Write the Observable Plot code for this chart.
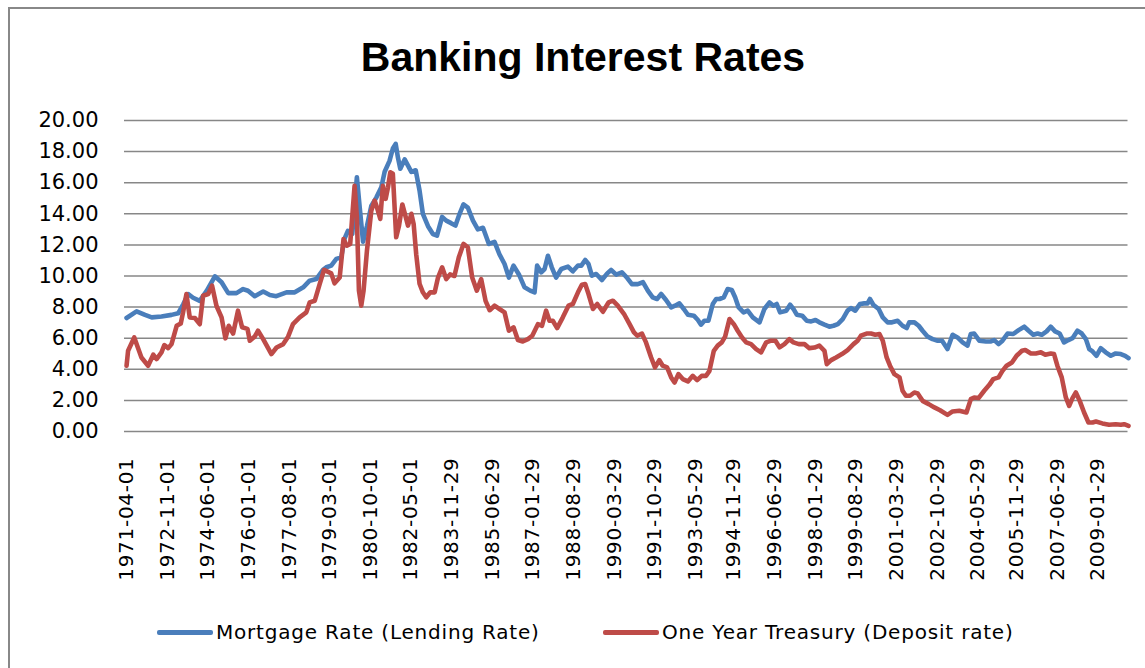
<!DOCTYPE html>
<html>
<head>
<meta charset="utf-8">
<script src="https://cdn.jsdelivr.net/npm/d3@7"></script>
<script src="https://cdn.jsdelivr.net/npm/@observablehq/plot@0.6"></script>
<style>
  html, body { margin: 0; padding: 0; background: #fff; overflow: hidden; }
  #wrap { position: relative; width: 1145px; height: 668px; overflow: hidden; background: #fff; }
  #frame { position: absolute; left: 8px; top: 7px; width: 1200px; height: 720px; border: 2px solid #888; box-sizing: border-box; }
  #title { position: absolute; left: 0; width: 1166px; top: 33px; text-align: center; font-family: "Liberation Sans", Arial, sans-serif; font-weight: bold; font-size: 41px; line-height: 48px; color: #000; }
  #chart { position: absolute; left: 0; top: 100px; }
  #chart svg { overflow: visible; }
  #chart g[aria-label="y-axis tick label"] text { font-size: 21px; }
  #chart g[aria-label="x-axis tick label"] text { font-size: 20px; letter-spacing: 0.7px; }
  .leg { position: absolute; top: 619px; height: 26px; font-family: "DejaVu Sans", sans-serif; font-size: 20px; letter-spacing: 0.8px; line-height: 26px; color: #000; white-space: nowrap; display: flex; align-items: center; }
  .leg span.sw { display: inline-block; width: 56px; height: 5px; border-radius: 2px; margin-right: 3px; }
</style>
</head>
<body>
<div id="wrap">
  <div id="frame"></div>
  <div id="title"></div>
  <div id="chart"></div>
  <div id="leg1" class="leg"></div>
  <div id="leg2" class="leg"></div>
</div>
<script>
const titleText = "Banking Interest Rates";
const seriesNames = ["Mortgage Rate (Lending Rate)", "One Year Treasury (Deposit rate)"];
const seriesColors = ["#4A7EBB", "#BE4B48"];

const tickLabels = ["1971-04-01","1972-11-01","1974-06-01","1976-01-01","1977-08-01","1979-03-01","1980-10-01","1982-05-01","1983-11-29","1985-06-29","1987-01-29","1988-08-29","1990-03-29","1991-10-29","1993-05-29","1994-11-29","1996-06-29","1998-01-29","1999-08-29","2001-03-29","2002-10-29","2004-05-29","2005-11-29","2007-06-29","2009-01-29"];
const yTicks = [0, 2, 4, 6, 8, 10, 12, 14, 16, 18, 20];

// decimal years
const mortgageYears = [1971.25,1971.64,1971.97,1972.23,1972.61,1973.00,1973.26,1973.46,1973.65,1973.84,1974.10,1974.37,1974.69,1974.95,1975.21,1975.53,1975.79,1975.98,1976.24,1976.57,1976.83,1977.08,1977.48,1977.80,1978.13,1978.38,1978.64,1978.90,1979.03,1979.22,1979.42,1979.61,1979.74,1979.87,1980.04,1980.22,1980.33,1980.46,1980.61,1980.78,1980.98,1981.17,1981.30,1981.49,1981.62,1981.73,1981.82,1981.91,1982.08,1982.21,1982.34,1982.51,1982.66,1982.79,1982.99,1983.18,1983.34,1983.54,1983.70,1983.89,1984.06,1984.22,1984.37,1984.54,1984.74,1984.93,1985.13,1985.36,1985.58,1985.77,1985.97,1986.14,1986.32,1986.53,1986.75,1986.97,1987.14,1987.24,1987.40,1987.53,1987.66,1987.81,1987.98,1988.18,1988.44,1988.63,1988.83,1988.96,1989.11,1989.24,1989.37,1989.54,1989.76,1989.97,1990.12,1990.32,1990.54,1990.75,1990.93,1991.16,1991.36,1991.55,1991.74,1991.91,1992.07,1992.26,1992.46,1992.61,1992.78,1992.95,1993.11,1993.34,1993.50,1993.62,1993.75,1993.91,1994.08,1994.21,1994.34,1994.51,1994.66,1994.82,1994.95,1995.08,1995.28,1995.44,1995.64,1995.90,1996.09,1996.29,1996.44,1996.57,1996.70,1996.94,1997.09,1997.22,1997.35,1997.56,1997.74,1997.91,1998.08,1998.23,1998.43,1998.62,1998.78,1998.95,1999.14,1999.33,1999.46,1999.63,1999.81,1999.98,2000.11,2000.20,2000.33,2000.54,2000.70,2000.89,2001.06,2001.28,2001.47,2001.63,2001.73,2001.93,2002.10,2002.25,2002.45,2002.64,2002.84,2003.01,2003.22,2003.42,2003.61,2003.81,2004.00,2004.13,2004.26,2004.46,2004.72,2004.91,2005.04,2005.21,2005.36,2005.56,2005.78,2005.99,2006.21,2006.38,2006.56,2006.73,2006.89,2007.08,2007.24,2007.41,2007.59,2007.76,2007.93,2008.09,2008.28,2008.45,2008.61,2008.74,2008.87,2009.02,2009.19,2009.38,2009.58,2009.77,2009.97,2010.14,2010.27];
const mortgageRates = [7.30,7.73,7.50,7.34,7.40,7.50,7.60,8.20,8.84,8.60,8.40,9.05,9.98,9.60,8.90,8.90,9.16,9.05,8.70,9.00,8.78,8.70,8.95,8.95,9.27,9.70,9.80,10.40,10.56,10.67,11.10,11.20,12.40,12.90,12.70,16.35,14.40,12.20,13.20,14.50,15.06,15.70,16.70,17.40,18.20,18.50,17.60,16.90,17.50,17.10,16.70,16.80,15.50,14.00,13.20,12.70,12.60,13.80,13.56,13.40,13.24,14.00,14.60,14.40,13.56,13.00,13.10,12.06,12.20,11.40,10.77,9.90,10.67,10.10,9.27,9.06,8.95,10.67,10.24,10.45,11.30,10.56,9.90,10.45,10.60,10.30,10.67,10.67,11.03,10.77,10.02,10.13,9.74,10.17,10.39,10.09,10.24,9.87,9.48,9.48,9.60,9.06,8.63,8.52,8.84,8.46,7.98,8.09,8.24,7.88,7.51,7.45,7.17,6.87,7.12,7.12,8.20,8.52,8.52,8.63,9.16,9.10,8.63,8.00,7.66,7.77,7.34,7.02,7.88,8.30,8.09,8.20,7.66,7.77,8.15,7.88,7.51,7.45,7.12,7.08,7.17,7.02,6.87,6.74,6.80,6.91,7.23,7.77,7.94,7.77,8.20,8.24,8.24,8.52,8.15,7.88,7.34,7.02,7.02,7.12,6.80,6.65,7.02,7.02,6.80,6.48,6.10,5.94,5.84,5.84,5.30,6.22,6.05,5.73,5.52,6.27,6.30,5.84,5.79,5.79,5.88,5.62,5.84,6.30,6.27,6.52,6.74,6.48,6.22,6.30,6.22,6.44,6.74,6.44,6.30,5.73,5.88,6.00,6.48,6.30,5.94,5.30,5.15,4.87,5.36,5.09,4.87,5.02,4.98,4.87,4.72];

const treasuryYears = [1971.25,1971.31,1971.55,1971.83,1972.09,1972.29,1972.42,1972.61,1972.72,1972.87,1973.00,1973.20,1973.36,1973.45,1973.58,1973.71,1973.91,1974.10,1974.23,1974.43,1974.58,1974.75,1974.95,1975.10,1975.23,1975.40,1975.59,1975.75,1975.96,1976.05,1976.24,1976.37,1976.57,1976.89,1977.09,1977.35,1977.54,1977.73,1977.99,1978.25,1978.38,1978.58,1978.77,1978.94,1979.22,1979.35,1979.55,1979.70,1979.83,1979.96,1980.13,1980.22,1980.30,1980.39,1980.48,1980.61,1980.78,1980.91,1981.00,1981.13,1981.23,1981.34,1981.43,1981.52,1981.62,1981.75,1981.86,1981.99,1982.12,1982.21,1982.34,1982.43,1982.53,1982.66,1982.79,1982.92,1983.08,1983.25,1983.38,1983.54,1983.70,1983.85,1984.02,1984.19,1984.37,1984.54,1984.71,1984.89,1985.06,1985.23,1985.39,1985.58,1985.77,1985.97,1986.14,1986.32,1986.49,1986.68,1986.88,1987.05,1987.27,1987.43,1987.59,1987.72,1987.85,1988.02,1988.24,1988.46,1988.63,1988.83,1988.98,1989.11,1989.24,1989.41,1989.58,1989.80,1990.02,1990.19,1990.38,1990.64,1990.84,1991.01,1991.14,1991.32,1991.48,1991.68,1991.83,1992.00,1992.13,1992.30,1992.46,1992.59,1992.74,1992.91,1993.11,1993.30,1993.47,1993.65,1993.82,1993.95,1994.12,1994.27,1994.43,1994.56,1994.73,1994.90,1995.05,1995.22,1995.38,1995.57,1995.77,1995.96,1996.16,1996.35,1996.52,1996.68,1996.87,1997.06,1997.22,1997.43,1997.65,1997.84,1998.04,1998.23,1998.43,1998.52,1998.69,1998.88,1999.11,1999.33,1999.56,1999.72,1999.85,2000.07,2000.24,2000.41,2000.57,2000.70,2000.85,2000.98,2001.15,2001.35,2001.47,2001.60,2001.76,2001.93,2002.06,2002.25,2002.49,2002.71,2002.93,2003.22,2003.42,2003.68,2003.96,2004.13,2004.26,2004.43,2004.65,2004.85,2005.00,2005.21,2005.36,2005.52,2005.73,2005.91,2006.12,2006.25,2006.47,2006.66,2006.86,2007.03,2007.24,2007.37,2007.50,2007.67,2007.83,2007.96,2008.09,2008.22,2008.37,2008.54,2008.71,2008.87,2009.00,2009.25,2009.51,2009.77,2009.97,2010.10,2010.27];
const treasuryRates = [4.23,5.19,6.05,4.76,4.23,4.94,4.66,5.09,5.56,5.36,5.62,6.80,6.95,7.66,8.84,7.34,7.30,6.90,8.73,8.84,9.38,8.09,7.34,5.99,6.80,6.30,7.77,6.70,6.60,5.84,6.10,6.48,5.94,4.98,5.40,5.62,6.10,6.91,7.34,7.66,8.30,8.41,9.48,10.39,10.17,9.53,9.90,12.38,11.95,12.06,15.80,13.80,9.06,8.09,9.06,11.60,14.20,14.85,14.42,13.67,15.80,14.96,15.70,16.67,16.57,12.49,13.24,14.60,13.80,13.24,14.00,13.35,11.40,9.50,8.95,8.63,8.95,8.95,9.90,10.56,9.80,10.10,10.00,11.20,12.06,11.85,9.90,9.06,9.80,8.40,7.80,8.09,7.88,7.66,6.48,6.70,5.88,5.79,5.94,6.16,6.90,6.80,7.77,7.12,7.12,6.65,7.34,8.09,8.20,8.95,9.44,9.48,8.84,7.88,8.20,7.70,8.30,8.41,8.09,7.51,6.90,6.37,6.16,6.30,5.73,4.76,4.12,4.59,4.23,4.12,3.48,3.15,3.69,3.37,3.22,3.58,3.30,3.58,3.58,3.90,5.19,5.52,5.73,6.10,7.23,6.90,6.48,6.05,5.73,5.62,5.30,5.09,5.73,5.84,5.84,5.41,5.62,5.94,5.73,5.62,5.62,5.36,5.40,5.52,5.19,4.33,4.59,4.76,4.98,5.24,5.62,5.84,6.16,6.30,6.30,6.22,6.27,5.84,4.76,4.23,3.69,3.48,2.62,2.30,2.30,2.51,2.45,1.97,1.76,1.55,1.37,1.07,1.29,1.33,1.22,2.08,2.19,2.15,2.62,3.00,3.37,3.48,3.90,4.23,4.44,4.87,5.19,5.24,5.02,5.02,5.09,4.94,5.02,4.98,4.23,3.48,2.19,1.65,2.15,2.51,1.97,1.22,0.58,0.58,0.64,0.52,0.43,0.47,0.43,0.47,0.36];

function toDate(y) {
  const yr = Math.floor(y);
  const s = Date.UTC(yr, 0, 1), e = Date.UTC(yr + 1, 0, 1);
  return new Date(s + (y - yr) * (e - s));
}
const parseDay = d3.utcParse("%Y-%m-%d");
const tickDates = tickLabels.map(parseDay);
const labelByTime = new Map(tickDates.map((d, i) => [+d, tickLabels[i]]));

const mortgage = mortgageYears.map((y, i) => ({date: toDate(y), rate: mortgageRates[i]}));
const treasury = treasuryYears.map((y, i) => ({date: toDate(y), rate: treasuryRates[i]}));

document.getElementById("title").textContent = titleText;

const chart = Plot.plot({
  width: 1145,
  height: 500,
  marginLeft: 124,
  marginRight: 17.5,
  marginTop: 20,
  marginBottom: 169,
  style: {fontFamily: "'DejaVu Sans', sans-serif", fontSize: "20px", color: "#000", background: "transparent"},
  x: {
    type: "utc",
    domain: [toDate(1971.17), toDate(2010.25)],
    ticks: tickDates,
    tickFormat: d => labelByTime.get(+d),
    tickRotate: -90,
    tickSize: 0,
    tickPadding: 26,
    label: null
  },
  y: {
    domain: [0, 20],
    ticks: yTicks,
    tickFormat: d => d.toFixed(2),
    tickSize: 0,
    tickPadding: 26,
    label: null
  },
  marks: [
    Plot.ruleY(yTicks, {stroke: "#878787", strokeWidth: 1.5}),
    Plot.lineY(mortgage, {x: "date", y: "rate", stroke: seriesColors[0], strokeWidth: 4.6, strokeLinejoin: "round", strokeLinecap: "round"}),
    Plot.lineY(treasury, {x: "date", y: "rate", stroke: seriesColors[1], strokeWidth: 4.6, strokeLinejoin: "round", strokeLinecap: "round"})
  ]
});
document.getElementById("chart").appendChild(chart);

const legLefts = [157, 603];
["leg1", "leg2"].forEach((id, i) => {
  const el = document.getElementById(id);
  el.style.left = legLefts[i] + "px";
  const sw = document.createElement("span");
  sw.className = "sw";
  sw.style.background = seriesColors[i];
  el.appendChild(sw);
  const t = document.createElement("span");
  t.textContent = seriesNames[i];
  el.appendChild(t);
});
</script>
</body>
</html>
